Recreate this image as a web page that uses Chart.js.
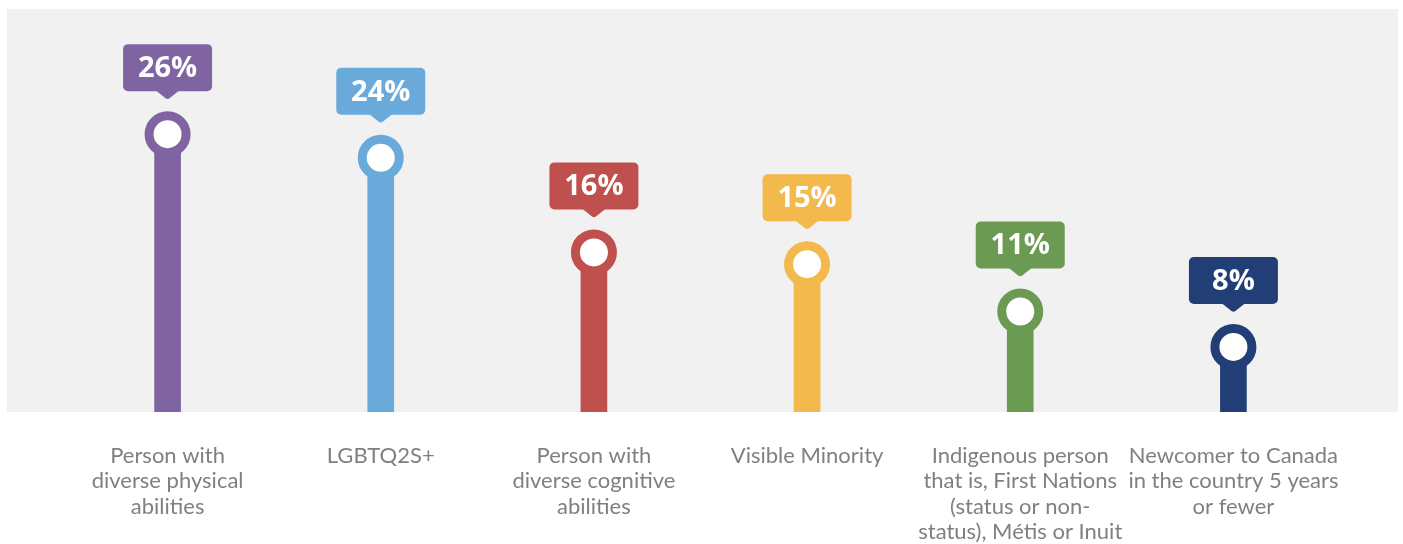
<!DOCTYPE html>
<html>
<head>
<meta charset="utf-8">
<script src="https://cdn.jsdelivr.net/npm/chart.js@4/dist/chart.umd.min.js"></script>
<style>
  html, body { margin: 0; padding: 0; background: #fff; }
  #wrap { width: 1403px; height: 544px; }
</style>
</head>
<body>
<div id="wrap"><canvas id="cntLollipop"></canvas></div>
<script>
  // categorias (varias lineas por etiqueta)
  const categories = [
    ['Person with', 'diverse physical', 'abilities'],
    ['LGBTQ2S+'],
    ['Person with', 'diverse cognitive', 'abilities'],
    ['Visible Minority'],
    ['Indigenous person', 'that is, First Nations', '(status or non-', 'status), Métis or Inuit'],
    ['Newcomer to Canada', 'in the country 5 years', 'or fewer']
  ];
  const shares = [26, 24, 16, 15, 11, 8];
  const colours = ['#8064a2', '#6aaadb', '#c0504d', '#f3b94d', '#6b9b52', '#213f76'];

  // fondo gris del area
  const bgPanel = {
    id: 'bgPanel',
    beforeDraw(chart) {
      const c = chart.ctx, a = chart.chartArea;
      c.save();
      c.fillStyle = '#f1f1f1';
      c.fillRect(7, 9, 1391, a.bottom - 9);
      c.restore();
    }
  };

  // etiquetas tipo globo encima de cada circulo
  const callouts = {
    id: 'callouts',
    afterDatasetsDraw(chart) {
      const c = chart.ctx;
      const meta = chart.getDatasetMeta(1);
      meta.data.forEach(function(pt, i) {
        const x = pt.x, y = pt.y;
        const w = 89, h = 47, r = 5;
        const bottom = y - 43, top = bottom - h, left = x - w / 2;
        c.save();
        c.fillStyle = colours[i];
        c.beginPath();
        c.roundRect(left, top, w, h, r);
        c.fill();
        c.beginPath();
        c.moveTo(x - 12, bottom - 1);
        c.lineTo(x + 12, bottom - 1);
        c.lineTo(x + 2, bottom + 7);
        c.quadraticCurveTo(x, bottom + 8.5, x - 2, bottom + 7);
        c.closePath();
        c.fill();
        c.fillStyle = '#fff';
        c.font = 'bold 29px "Open Sans"';
        c.textAlign = 'center';
        c.textBaseline = 'middle';
        c.fillText(shares[i] + '%', x, top + h / 2 + 1);
        c.restore();
      });
    }
  };

  const config = {
    data: {
      labels: categories,
      datasets: [
        {
          type: 'bar',
          data: shares,
          backgroundColor: colours,
          barThickness: 26,
          order: 2
        },
        {
          type: 'line',
          data: shares,
          showLine: false,
          pointRadius: 18.5,
          pointHoverRadius: 18.5,
          pointBorderWidth: 9,
          pointHoverBorderWidth: 9,
          pointBackgroundColor: '#ffffff',
          pointBorderColor: colours,
          order: 1
        }
      ]
    },
    options: {
      responsive: true,
      maintainAspectRatio: false,
      animation: false,
      events: [],
      layout: { autoPadding: false, padding: { left: 61, right: 63, top: 10, bottom: 0 } },
      plugins: {
        legend: { display: false },
        tooltip: { enabled: false }
      },
      scales: {
        x: {
          grid: { display: false },
          border: { display: false },
          afterFit: function(scale) { scale.height = 132; },
          ticks: {
            color: '#808080',
            padding: 23,
            maxRotation: 0,
            autoSkip: false,
            font: { family: 'Lato', size: 22, lineHeight: 1.16 }
          }
        },
        y: {
          display: false,
          min: 2.5,
          max: 36.5
        }
      }
    },
    plugins: [bgPanel, callouts]
  };

  const ctx = document.getElementById('cntLollipop').getContext('2d');
  window.graficaLollipop = new Chart(ctx, config);
</script>
</body>
</html>
